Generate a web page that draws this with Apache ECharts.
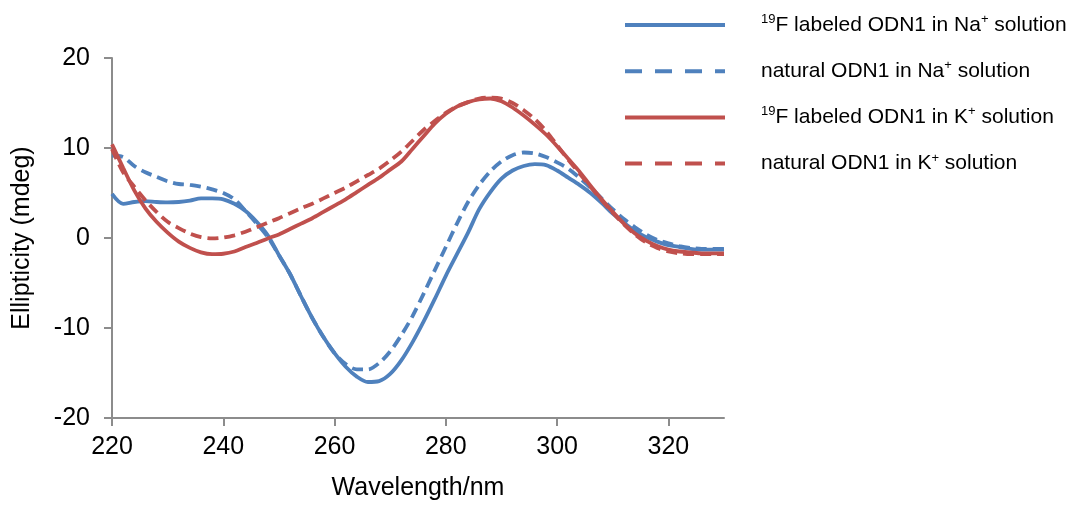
<!DOCTYPE html>
<html><head><meta charset="utf-8">
<script src="https://cdn.jsdelivr.net/npm/echarts@6/dist/echarts.min.js"></script>
<style>html,body{margin:0;padding:0;background:#fff}#c{width:1075px;height:506px}</style>
</head><body><div id="c"></div>
<script>
const wavelengths = [220,222,224,226,228,230,232,234,236,238,240,242,244,246,248,250,252,254,256,258,260,262,264,266,268,270,272,274,276,278,280,282,284,286,288,290,292,294,296,298,300,302,304,306,308,310,312,314,316,318,320,322,324,326,328,330];
const fNa = [4.9,3.8,4.0,4.1,4.0,3.95,4.0,4.15,4.4,4.4,4.3,3.8,3.0,1.8,0.3,-1.9,-4.0,-6.5,-8.9,-11.0,-12.8,-14.3,-15.4,-16.0,-15.9,-15.1,-13.6,-11.6,-9.3,-6.8,-4.2,-1.8,0.6,3.2,5.1,6.6,7.5,8.0,8.2,8.1,7.5,6.7,5.9,5.0,3.9,2.7,1.7,0.8,0.1,-0.4,-0.8,-1.0,-1.2,-1.3,-1.3,-1.3];
const natNa = [9.15,9.0,8.0,7.3,6.8,6.3,6.0,5.9,5.7,5.4,5.0,4.3,3.0,1.6,0.1,-1.9,-4.0,-6.5,-8.9,-11.0,-12.8,-14.0,-14.6,-14.6,-13.9,-12.6,-10.8,-8.7,-6.2,-3.6,-1.0,1.6,4.0,5.9,7.4,8.5,9.2,9.5,9.4,9.0,8.4,7.7,6.7,5.6,4.4,3.2,2.1,1.2,0.4,-0.2,-0.6,-0.9,-1.1,-1.2,-1.2,-1.2];
const fK = [10.4,7.8,5.3,3.3,1.8,0.6,-0.4,-1.1,-1.6,-1.8,-1.75,-1.5,-1.0,-0.55,-0.05,0.4,1.0,1.6,2.2,2.9,3.6,4.3,5.1,5.9,6.7,7.6,8.5,9.9,11.3,12.7,13.8,14.6,15.1,15.4,15.5,15.2,14.5,13.6,12.6,11.5,10.2,8.8,7.4,5.8,4.3,2.9,1.6,0.5,-0.3,-0.9,-1.3,-1.5,-1.6,-1.7,-1.7,-1.7];
const natK = [9.9,7.3,5.7,4.2,2.9,1.8,1.1,0.5,0.1,-0.05,0.05,0.3,0.7,1.2,1.7,2.2,2.75,3.3,3.8,4.4,5.0,5.6,6.3,7.0,7.7,8.6,9.6,10.8,12.0,13.0,13.9,14.6,15.1,15.5,15.6,15.5,15.0,14.2,13.2,11.9,10.3,8.7,7.2,5.7,4.2,2.8,1.5,0.4,-0.5,-1.1,-1.5,-1.7,-1.8,-1.8,-1.8,-1.8];
const xTicks = [220,240,260,280,300,320];
const seriesNames = ['fNa','natNa','fK','natK'];
const legendLabels = ['{s|19}{n|F labeled ODN1 in Na}{s|+}{n| solution}','{n|natural ODN1 in Na}{s|+}{n| solution}','{s|19}{n|F labeled ODN1 in K}{s|+}{n| solution}','{n|natural ODN1 in K}{s|+}{n| solution}'];

const BLUE = '#4F81BD', RED = '#C0504D', AX = '#8c8c8c';
const FONT = 'Liberation Sans, Arial, sans-serif';
const pair = (ys) => wavelengths.map((w,i)=>[w, ys[i]]);
const dash = [11,6];
function mk(name, ys, color, dashed){
  return {name, type:'line', data: pair(ys), showSymbol:false, symbol:'none', smooth:0.3,
    lineStyle:{color, width:3.8, type: dashed ? dash : 'solid', cap:'butt'}, itemStyle:{color}};
}
const chart = echarts.init(document.getElementById('c'), null, {renderer:'canvas'});
chart.setOption({
  animation:false,
  textStyle:{fontFamily:FONT},
  grid:{left:112, top:58, right:351, bottom:84, containLabel:false},
  legend:{orient:'vertical', left:618, top:8, itemWidth:100, itemHeight:22, itemGap:23.7,
    itemStyle:{opacity:0, borderWidth:0},
    data:[
      {name:'fNa', lineStyle:{type:'solid', width:4}},
      {name:'natNa', lineStyle:{type:[17,13], width:4}},
      {name:'fK', lineStyle:{type:'solid', width:4}},
      {name:'natK', lineStyle:{type:[17,13], width:4}}
    ],
    formatter:(n)=>legendLabels[seriesNames.indexOf(n)],
    textStyle:{fontFamily:FONT, color:'#000', padding:[0,0,0,31],
      rich:{n:{fontSize:21, fontFamily:FONT, color:'#000', lineHeight:24},
            s:{fontSize:13, fontFamily:FONT, color:'#000', verticalAlign:'top', lineHeight:15}}}
  },
  xAxis:{type:'value', min:220, max:330, interval:20,
    name:'Wavelength/nm', nameLocation:'middle', nameGap:58,
    nameTextStyle:{fontSize:25, color:'#000', fontFamily:FONT},
    axisLine:{onZero:false, lineStyle:{color:AX, width:2}},
    axisTick:{show:true, inside:false, length:8, lineStyle:{color:AX, width:2}, customValues:xTicks},
    axisLabel:{fontSize:25, color:'#000', margin:17, fontFamily:FONT, customValues:xTicks},
    splitLine:{show:false}},
  yAxis:{type:'value', min:-20, max:20, interval:10,
    name:'Ellipticity (mdeg)', nameLocation:'middle', nameGap:77, nameRotate:90,
    nameTextStyle:{fontSize:25, color:'#000', fontFamily:FONT},
    axisLine:{show:true, onZero:false, lineStyle:{color:AX, width:2}},
    axisTick:{show:true, inside:false, length:8, lineStyle:{color:AX, width:2}},
    axisLabel:{fontSize:25, color:'#000', margin:22, fontFamily:FONT},
    splitLine:{show:false}},
  series:[mk('fNa',fNa,BLUE,false), mk('natNa',natNa,BLUE,true), mk('fK',fK,RED,false), mk('natK',natK,RED,true)]
});
</script></body></html>
